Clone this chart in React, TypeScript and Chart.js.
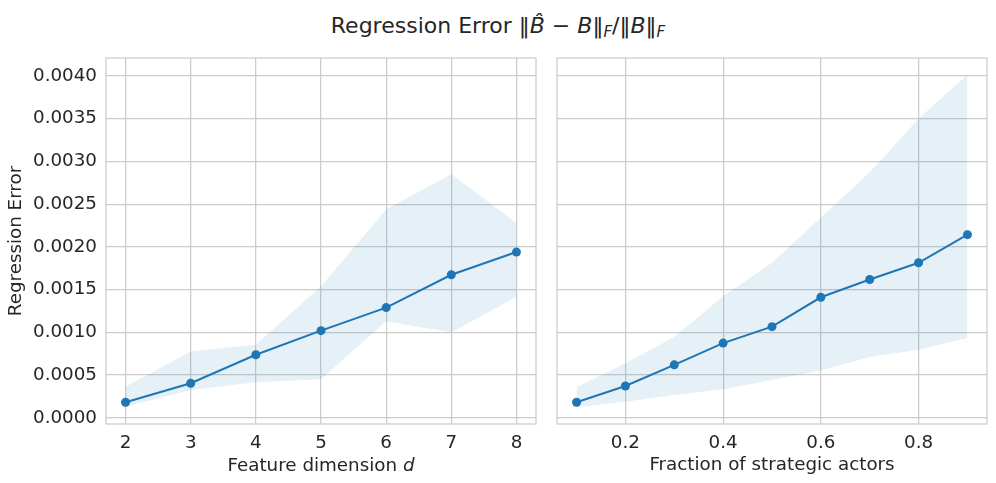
import React, { useEffect, useRef } from "react";
import { Chart, registerables } from "chart.js";

Chart.register(...registerables);

// ---- data ----
const dimX = [2, 3, 4, 5, 6, 7, 8];
const dimMean = [0.000181, 0.000404, 0.000737, 0.001019, 0.001289, 0.001673, 0.001939];
const dimUpper = [0.000364, 0.000776, 0.000854, 0.00154, 0.00244, 0.00285, 0.00228];
const dimLower = [0.000129, 0.000325, 0.000416, 0.000451, 0.00113, 0.000999, 0.001415];

const fracX = [0.1, 0.2, 0.3, 0.4, 0.5, 0.6, 0.7, 0.8, 0.9];
const fracMean = [0.000181, 0.000372, 0.000619, 0.000874, 0.001066, 0.00141, 0.001618, 0.001814, 0.002143];
const fracUpper = [0.000357, 0.000639, 0.000945, 0.001422, 0.001814, 0.002343, 0.002872, 0.003498, 0.004015];
const fracLower = [0.000122, 0.000188, 0.000267, 0.000334, 0.000443, 0.000552, 0.00071, 0.000795, 0.000933];

const yTicks = [0, 0.0005, 0.001, 0.0015, 0.002, 0.0025, 0.003, 0.0035, 0.004];
const dimTicks = [2, 3, 4, 5, 6, 7, 8];
const fracTicks = [0.2, 0.4, 0.6, 0.8];

const Y_MIN = -0.000073;
const Y_MAX = 0.00421;

const LINE = "#1f77b4";
const BAND = "rgba(31,119,180,0.11)";
const GRID = "#cccccc";
const FONT = "'DejaVu Sans', sans-serif";
const TEXT = "#262626";

const framePlugin = {
  id: "frame",
  afterDatasetsDraw(chart: any) {
    const { ctx, chartArea } = chart;
    ctx.save();
    ctx.strokeStyle = GRID;
    ctx.lineWidth = 1.25;
    ctx.strokeRect(chartArea.left, chartArea.top, chartArea.right - chartArea.left, chartArea.bottom - chartArea.top);
    ctx.restore();
  },
};

const pts = (xs: number[], ys: number[]) => xs.map((x, i) => ({ x, y: ys[i] }));

function makeConfig(opts: {
  xs: number[];
  mean: number[];
  upper: number[];
  lower: number[];
  xTicks: number[];
  xMin: number;
  xMax: number;
  xLabel: string;
  showXLabel: boolean;
  xFmt: (v: number) => string;
  showY: boolean;
  yWidth: number;
  padRight: number;
}): any {
  return {
    type: "line",
    data: {
      datasets: [
        {
          data: pts(opts.xs, opts.upper),
          borderWidth: 0,
          pointRadius: 0,
          backgroundColor: BAND,
          fill: "+1",
          tension: 0,
        },
        {
          data: pts(opts.xs, opts.lower),
          borderWidth: 0,
          pointRadius: 0,
          fill: false,
          tension: 0,
        },
        {
          data: pts(opts.xs, opts.mean),
          borderColor: LINE,
          backgroundColor: LINE,
          borderWidth: 2,
          pointRadius: 4.5,
          pointBorderWidth: 0,
          pointBackgroundColor: LINE,
          fill: false,
          tension: 0,
        },
      ],
    },
    options: {
      animation: false,
      responsive: false,
      maintainAspectRatio: false,
      layout: { padding: { top: 58, right: opts.padRight, left: 0, bottom: 0 } },
      plugins: { legend: { display: false }, tooltip: { enabled: false }, title: { display: false } },
      scales: {
        x: {
          type: "linear",
          min: opts.xMin,
          max: opts.xMax,
          afterBuildTicks: (s: any) => {
            s.ticks = opts.xTicks.map((v) => ({ value: v }));
          },
          afterFit: (s: any) => {
            s.height = 59;
          },
          grid: { color: GRID, lineWidth: 1.25, drawTicks: false },
          border: { display: false },
          ticks: {
            padding: 8,
            color: TEXT,
            font: { family: FONT, size: 18.3 },
            maxRotation: 0,
            autoSkip: false,
            callback: (v: any) => opts.xFmt(Number(v)),
          },
          title: {
            display: opts.showXLabel,
            text: opts.xLabel,
            color: TEXT,
            font: { family: FONT, size: 18.3 },
            padding: { top: 0, bottom: 7 },
          },
        },
        y: {
          type: "linear",
          min: Y_MIN,
          max: Y_MAX,
          afterBuildTicks: (s: any) => {
            s.ticks = yTicks.map((v) => ({ value: v }));
          },
          afterFit: (s: any) => {
            s.width = opts.yWidth;
          },
          grid: { color: GRID, lineWidth: 1.25, drawTicks: false },
          border: { display: false },
          ticks: {
            display: opts.showY,
            padding: 9,
            color: TEXT,
            font: { family: FONT, size: 18.3 },
            autoSkip: false,
            callback: (v: any) => Number(v).toFixed(4),
          },
          title: {
            display: opts.showY,
            text: "Regression Error",
            color: TEXT,
            font: { family: FONT, size: 18.3 },
            padding: { top: 5, bottom: 0 },
          },
        },
      },
    },
    plugins: [framePlugin],
  };
}

export default function App() {
  const leftRef = useRef<HTMLCanvasElement>(null);
  const rightRef = useRef<HTMLCanvasElement>(null);

  useEffect(() => {
    const left = new Chart(
      leftRef.current!,
      makeConfig({
        xs: dimX,
        mean: dimMean,
        upper: dimUpper,
        lower: dimLower,
        xTicks: dimTicks,
        xMin: 1.7,
        xMax: 8.3,
        xLabel: "Feature dimension d",
        showXLabel: false,
        xFmt: (v) => String(v),
        showY: true,
        yWidth: 106,
        padRight: 9,
      })
    );
    const right = new Chart(
      rightRef.current!,
      makeConfig({
        xs: fracX,
        mean: fracMean,
        upper: fracUpper,
        lower: fracLower,
        xTicks: fracTicks,
        xMin: 0.06,
        xMax: 0.94,
        xLabel: "Fraction of strategic actors",
        showXLabel: true,
        xFmt: (v) => v.toFixed(1),
        showY: false,
        yWidth: 9,
        padRight: 9,
      })
    );
    return () => {
      left.destroy();
      right.destroy();
    };
  }, []);

  const it: React.CSSProperties = { fontStyle: "italic" };
  const sub: React.CSSProperties = { fontStyle: "italic", fontSize: "15px", verticalAlign: "-4px" };

  return (
    <div style={{ position: "fixed", left: 0, top: 0, width: 996, height: 483, background: "#fff", overflow: "hidden" }}>
      <div
        style={{
          position: "absolute",
          left: 0,
          top: 12,
          width: 996,
          textAlign: "center",
          fontFamily: FONT,
          fontSize: "22px",
          color: TEXT,
          lineHeight: "28px",
          whiteSpace: "nowrap",
        }}
      >
        Regression Error ‖<span style={it}>B̂</span> − <span style={it}>B</span>‖<span style={sub}>F</span>/‖
        <span style={it}>B</span>‖<span style={sub}>F</span>
      </div>
      <canvas ref={leftRef} width={545} height={483} style={{ position: "absolute", left: 0, top: 0, width: 545, height: 483 }} />
      <canvas ref={rightRef} width={448} height={483} style={{ position: "absolute", left: 548, top: 0, width: 448, height: 483 }} />
      <div
        style={{
          position: "absolute",
          left: 106,
          width: 430,
          top: 454,
          textAlign: "center",
          fontFamily: FONT,
          fontSize: "18.3px",
          lineHeight: "22px",
          color: TEXT,
          whiteSpace: "nowrap",
        }}
      >
        Feature dimension <span style={it}>d</span>
      </div>
    </div>
  );
}
